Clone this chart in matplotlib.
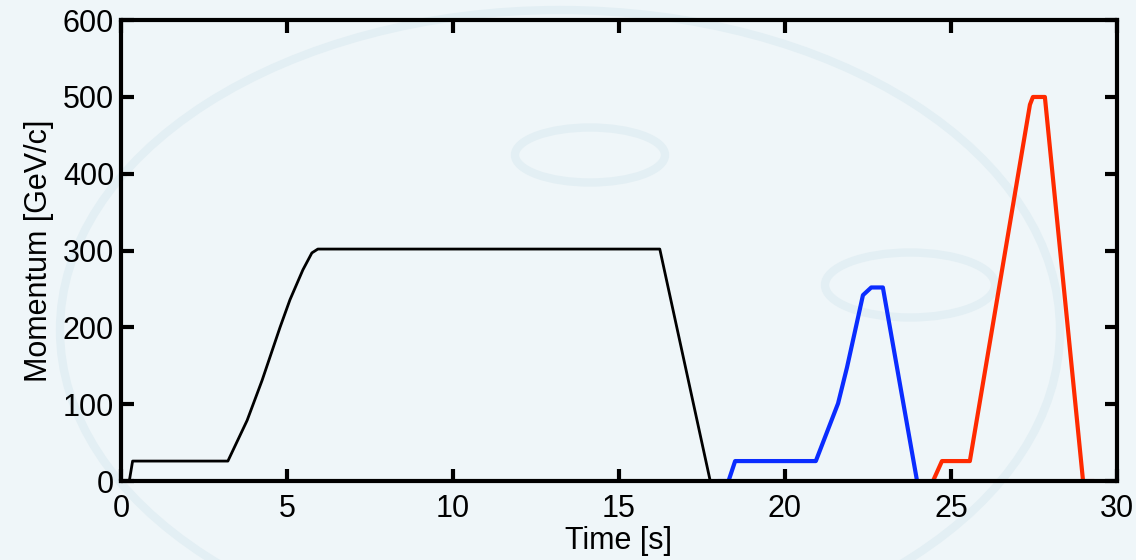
import matplotlib.pyplot as plt
from matplotlib.patches import Ellipse

plt.rcParams['font.family'] = ['Liberation Sans', 'DejaVu Sans']

# cycle 1 (black)
t1 = [0.25, 0.35, 3.22, 3.8, 4.25, 4.79, 5.09, 5.48, 5.75, 5.93, 16.23, 17.75]
p1 = [0, 26, 26, 79, 131, 200, 236, 275, 297, 302, 302, 0]
# cycle 2 (blue)
t2 = [18.04, 18.3, 18.5, 20.93, 21.6, 21.87, 22.1, 22.35, 22.6, 22.95, 23.98]
p2 = [0, 0, 26, 26, 101, 148, 193, 242, 252, 252, 0]
# cycle 3 (red)
t3 = [24.46, 24.73, 25.57, 27.38, 27.47, 27.83, 28.98, 29.25]
p3 = [0, 26, 26, 490, 500, 500, 0, 0]

bg = '#eff6f9'
fig = plt.figure(figsize=(11.36, 5.6), dpi=100, facecolor=bg)

# faint background watermark rings
deco = fig.add_axes([0, 0, 1, 1], zorder=-1)
deco.set_xlim(0, 1136)
deco.set_ylim(560, 0)
deco.axis('off')
for cx, cy, w, h in [(590, 155, 150, 55), (910, 285, 170, 65), (560, 330, 1000, 640)]:
    deco.add_patch(Ellipse((cx, cy), w, h, fill=False, ec='#e3eff4', lw=6))

ax = fig.add_axes([0.1065, 0.141, 0.8767, 0.823])
ax.set_facecolor('none')
ax.plot(t1, p1, color='black', lw=2)
ax.plot(t2, p2, color='#0a2cff', lw=3)
ax.plot(t3, p3, color='#ff2a00', lw=3)

ax.set_xlim(0, 30)
ax.set_ylim(0, 600)
ax.set_xticks([0, 5, 10, 15, 20, 25, 30])
ax.set_yticks([0, 100, 200, 300, 400, 500, 600])
ax.tick_params(direction='in', top=True, right=True, length=9, width=3,
               labelsize=22, pad=5, colors='black')
ax.tick_params(axis='x', pad=9)
for s in ax.spines.values():
    s.set_linewidth(3)
ax.set_xlabel('Time [s]', fontsize=22, labelpad=2)
ax.set_ylabel('Momentum [GeV/c]', fontsize=22, labelpad=6)

fig.savefig('out.png', dpi=100, facecolor=bg)
